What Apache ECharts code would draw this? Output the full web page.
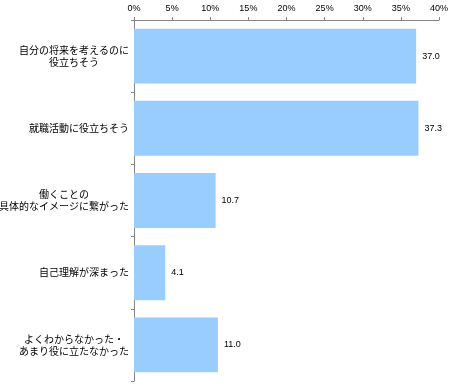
<!DOCTYPE html>
<html>
<head>
<meta charset="utf-8">
<script src="https://cdn.jsdelivr.net/npm/echarts@6/dist/echarts.min.js"></script>
<style>html,body{margin:0;padding:0;background:#fff;}#c{width:449px;height:386px;}</style>
</head>
<body>
<div id="c"></div>
<script>
const categories = [
  '自分の将来を考えるのに\n役立ちそう',
  '就職活動に役立ちそう',
  '働くことの\n具体的なイメージに繋がった',
  '自己理解が深まった',
  'よくわからなかった・\nあまり役に立たなかった'
];
const values = [37.0, 37.3, 10.7, 4.1, 11.0];
const axisMin = 0, axisMax = 40, axisStep = 5;

const chart = echarts.init(document.getElementById('c'), null, {renderer: 'canvas'});
const axisColor = '#868686';
chart.setOption({
  animation: false,
  grid: {left: 134, right: 10, top: 20, bottom: 5, containLabel: false, outerBoundsMode: 'none'},
  xAxis: {
    type: 'value', position: 'top', min: axisMin, max: axisMax, interval: axisStep,
    axisLine: {show: true, lineStyle: {color: axisColor, width: 1}},
    axisTick: {show: true, length: 3, lineStyle: {color: axisColor}},
    splitLine: {show: false},
    axisLabel: {formatter: '{value}%', fontSize: 9, color: '#000', margin: 7, fontFamily: 'Liberation Sans'}
  },
  yAxis: {
    type: 'category', data: categories, inverse: true,
    axisLine: {show: true, lineStyle: {color: axisColor, width: 1}},
    axisTick: {show: true, length: 3, lineStyle: {color: axisColor}},
    axisLabel: {
      margin: 5, color: '#000', fontSize: 10, fontFamily: 'Noto Sans CJK JP', lineHeight: 12,
      formatter: function (v) {
        return v.split('\n').map(function (s) { return '{a|' + s + '}'; }).join('\n');
      },
      rich: {a: {align: 'center', fontSize: 10, lineHeight: 12, fontFamily: 'Noto Sans CJK JP', color: '#000'}}
    }
  },
  series: [{
    type: 'bar', data: values, barCategoryGap: '24%',
    itemStyle: {color: '#99CCFF'},
    label: {show: true, position: 'right', distance: 6, fontSize: 9, color: '#000', fontFamily: 'Liberation Sans',
      formatter: function (p) { return p.value.toFixed(1); }}
  }]
});
</script>
</body>
</html>
